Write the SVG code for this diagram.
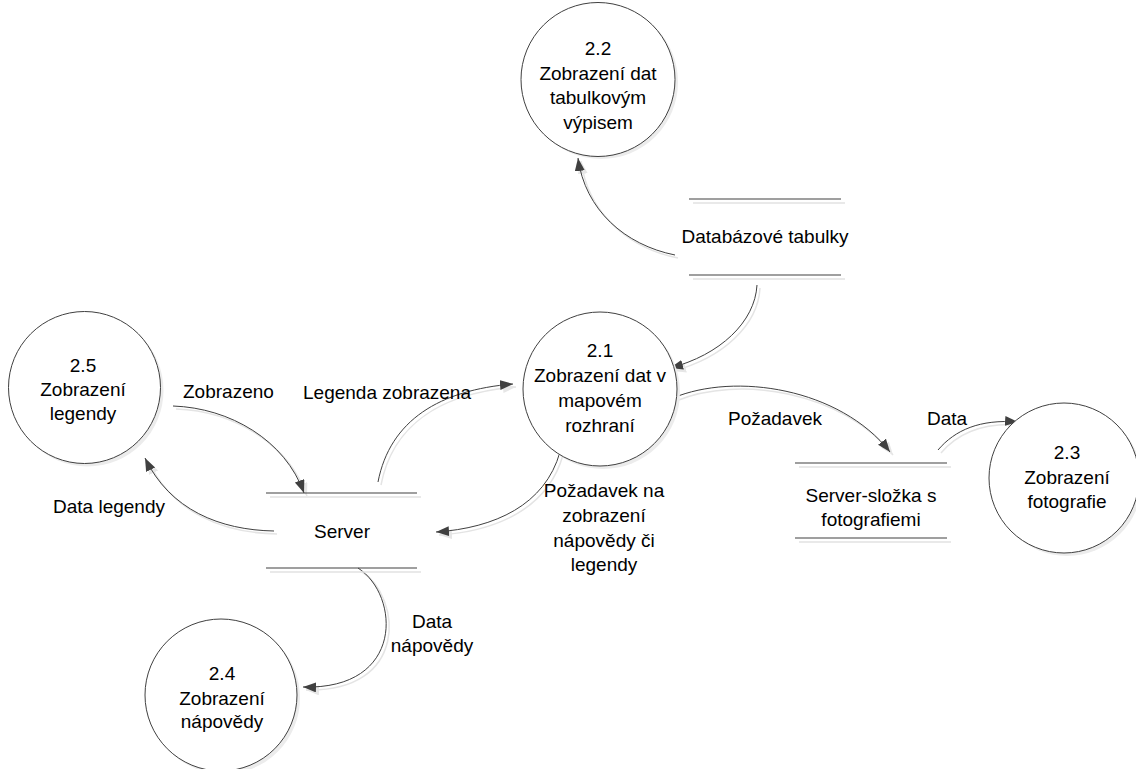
<svg xmlns="http://www.w3.org/2000/svg" xmlns:xlink="http://www.w3.org/1999/xlink" width="1136" height="769" viewBox="0 0 1136 769">
<style>
text{font-family:"Liberation Sans",Arial,sans-serif;font-size:19px;fill:#000;text-anchor:middle}
.proc{fill:#fff;stroke:#404040;stroke-width:1}
.psh{fill:#ececec;stroke:none}
.st{stroke:#404040;stroke-width:1.2;fill:none}
.stsh{stroke:#e2e2e2;stroke-width:1.5;fill:none}
.fl{fill:none;stroke:#404040;stroke-width:1}
.flsh{fill:none;stroke:#e4e4e4;stroke-width:1.5}
.lbl{text-anchor:start}
</style>
<defs>
<marker id="arr" markerUnits="userSpaceOnUse" markerWidth="14" markerHeight="12" refX="13" refY="5" orient="auto">
<path d="M0,0 L13,5 L0,10 z" fill="#404040"/>
</marker>
<marker id="arrsh" markerUnits="userSpaceOnUse" markerWidth="14" markerHeight="12" refX="13" refY="5" orient="auto">
<path d="M0,0 L13,5 L0,10 z" fill="#e6e6e6"/>
</marker>
<path id="c1" d="M675,255 C625,245 585,210 578,158"/>
<path id="c2" d="M757,285 C755,322 720,355 670,368"/>
<path id="c3" d="M673,398 C735,372 840,388 890,452"/>
<path id="c4" d="M938,450 C955,430 980,419 1018,422"/>
<path id="c5" d="M173,406 C230,408 285,440 304,493"/>
<path id="c6" d="M274,531 C220,530 170,510 145,458"/>
<path id="c7" d="M378,482 C390,420 440,390 513,384"/>
<path id="c8" d="M560,452 C545,505 495,528 436,532"/>
<path id="c9" d="M358,568 C400,595 405,690 303,687"/>
</defs>

<g id="connectors">
<g transform="translate(3,3)" class="flsh">
<use xlink:href="#c1" href="#c1" marker-end="url(#arrsh)"/>
<use xlink:href="#c2" href="#c2" marker-end="url(#arrsh)"/>
<use xlink:href="#c3" href="#c3" marker-end="url(#arrsh)"/>
<use xlink:href="#c4" href="#c4" marker-end="url(#arrsh)"/>
<use xlink:href="#c5" href="#c5" marker-end="url(#arrsh)"/>
<use xlink:href="#c6" href="#c6" marker-end="url(#arrsh)"/>
<use xlink:href="#c7" href="#c7" marker-end="url(#arrsh)"/>
<use xlink:href="#c8" href="#c8" marker-end="url(#arrsh)"/>
<use xlink:href="#c9" href="#c9" marker-end="url(#arrsh)"/>
</g>
<g class="fl">
<use xlink:href="#c1" href="#c1" marker-end="url(#arr)"/>
<use xlink:href="#c2" href="#c2" marker-end="url(#arr)"/>
<use xlink:href="#c3" href="#c3" marker-end="url(#arr)"/>
<use xlink:href="#c4" href="#c4" marker-end="url(#arr)"/>
<use xlink:href="#c5" href="#c5" marker-end="url(#arr)"/>
<use xlink:href="#c6" href="#c6" marker-end="url(#arr)"/>
<use xlink:href="#c7" href="#c7" marker-end="url(#arr)"/>
<use xlink:href="#c8" href="#c8" marker-end="url(#arr)"/>
<use xlink:href="#c9" href="#c9" marker-end="url(#arr)"/>
</g>
<text x="765" y="243">Databázové tabulky</text>
<text class="lbl" x="303" y="399">Legenda zobrazena</text>
<text class="lbl" x="183" y="398">Zobrazeno</text>
<text class="lbl" x="53" y="513">Data legendy</text>
<text x="604" y="497">Požadavek na</text>
<text x="604" y="522">zobrazení</text>
<text x="604" y="547">nápovědy či</text>
<text x="604" y="571">legendy</text>
<text class="lbl" x="728" y="425">Požadavek</text>
<text class="lbl" x="927" y="425">Data</text>
<text x="432" y="628">Data</text>
<text x="432" y="652">nápovědy</text>
</g>

<g id="p22">
<circle class="psh" cx="601" cy="82" r="77"/>
<circle class="proc" cx="598" cy="79.5" r="77"/>
<text x="598" y="55">2.2</text>
<text x="598" y="79.5">Zobrazení dat</text>
<text x="598" y="104">tabulkovým</text>
<text x="598" y="128.5">výpisem</text>
</g>

<g id="p21">
<circle class="psh" cx="603" cy="392" r="77"/>
<circle class="proc" cx="600" cy="389" r="77"/>
<text x="600" y="357">2.1</text>
<text x="600" y="382">Zobrazení dat v</text>
<text x="600" y="407">mapovém</text>
<text x="600" y="432">rozhraní</text>
</g>

<g id="p25">
<circle class="psh" cx="87.5" cy="390.5" r="76"/>
<circle class="proc" cx="84.5" cy="387.5" r="76"/>
<text x="83" y="372">2.5</text>
<text x="83" y="396">Zobrazení</text>
<text x="83" y="420">legendy</text>
</g>

<g id="p23">
<circle class="psh" cx="1067" cy="481" r="75"/>
<circle class="proc" cx="1064" cy="478" r="75"/>
<text x="1067" y="459">2.3</text>
<text x="1067" y="484">Zobrazení</text>
<text x="1067" y="508">fotografie</text>
</g>

<g id="p24">
<circle class="psh" cx="224" cy="698" r="76"/>
<circle class="proc" cx="221" cy="695" r="76"/>
<text x="222" y="680">2.4</text>
<text x="222" y="705">Zobrazení</text>
<text x="222" y="728">nápovědy</text>
</g>

<g id="ds-db">
<path class="stsh" d="M693,203 H845 M693,279 H845"/>
<path class="st" d="M689,199 H841 M689,275 H841"/>
</g>

<g id="ds-server">
<path class="stsh" d="M270,497 H421 M270,572 H421"/>
<path class="st" d="M266,493 H417 M266,568 H417"/>
<text x="342" y="538">Server</text>
</g>

<g id="ds-photos">
<path class="stsh" d="M799,467 H951 M799,542 H951"/>
<path class="st" d="M795,463 H947 M795,538 H947"/>
<text x="871" y="502">Server-složka s</text>
<text x="871" y="526">fotografiemi</text>
</g>
</svg>
